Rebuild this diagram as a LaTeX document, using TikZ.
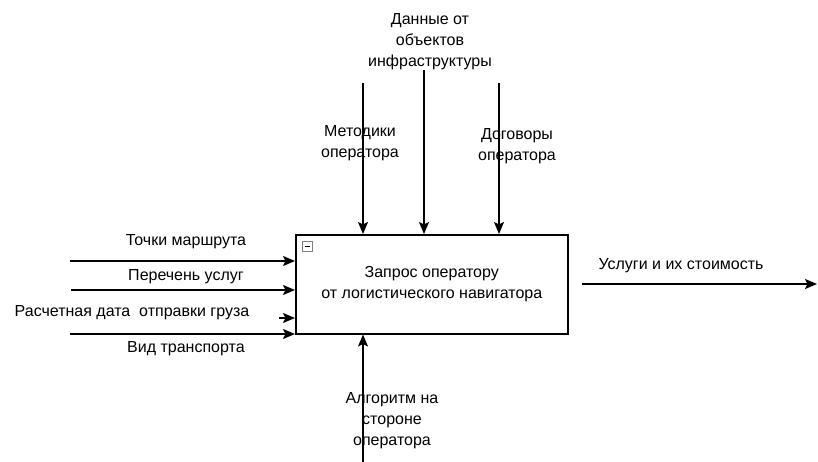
\documentclass[tikz,border=0pt]{standalone}
\usepackage{fontspec}
\setmainfont{Liberation Sans}
\usetikzlibrary{arrows.meta}

\begin{document}
\begin{tikzpicture}[x=1pt,y=-1pt,
    txt/.style={font=\fontsize{16}{21}\selectfont, align=center, inner sep=0pt},
    arr/.style={line width=1.5pt, -{Stealth[length=12pt,width=10pt,inset=2.5pt]}},
    func/.style={draw, line width=1.5pt, minimum width=272pt, minimum height=99pt, anchor=north west, inner sep=0pt}]
\useasboundingbox (0,0) rectangle (818,462);

% the function box
\node[func, txt] (zapros) at (295,234) {Запрос оператору\\от логистического навигатора};
\draw[gray, line width=0.8pt] (302,241) rectangle (312,251);
\draw[line width=0.9pt] (304.5,246) -- (309.5,246);

% controls from above
\node[txt] (lblDannye) at (430,42) {Данные от\\объектов\\инфраструктуры};
\node[txt] (lblMetod) at (360,143) {Методики\\оператора};
\node[txt] (lblDogov) at (517,146) {Договоры\\оператора};
\coordinate (inMetod) at (363,83);
\coordinate (inDannye) at (424,70);
\coordinate (inDogov) at (499,83);
\draw[arr] (inMetod) -- (inMetod |- zapros.north);
\draw[arr] (inDannye) -- (inDannye |- zapros.north);
\draw[arr] (inDogov) -- (inDogov |- zapros.north);

% inputs
\node[txt] (lblTochki) at (186,242) {Точки маршрута};
\node[txt] (lblPerech) at (186,277) {Перечень услуг};
\node[txt] (lblData) at (132,313) {Расчетная дата \ отправки груза};
\node[txt] (lblVid) at (186,349) {Вид транспорта};
\coordinate (inTochki) at (70,261);
\coordinate (inPerech) at (71,290);
\coordinate (inData) at (279,318);
\coordinate (inVid) at (70,334);
\draw[arr] (inTochki) -- (inTochki -| zapros.west);
\draw[arr] (inPerech) -- (inPerech -| zapros.west);
\draw[arr] (inData) -- (inData -| zapros.west);
\draw[arr] (inVid) -- (inVid -| zapros.west);

% output
\node[txt] (lblUslugi) at (681,266) {Услуги и их стоимость};
\coordinate (outStart) at (582,284);
\coordinate (outEnd) at (817,284);
\draw[arr] (outStart) -- (outEnd);

% mechanism from below
\node[txt] (lblAlg) at (392,421) {Алгоритм на\\стороне\\оператора};
\coordinate (mechAlg) at (363,462);
\draw[arr] (mechAlg) -- (mechAlg |- zapros.south);
\end{tikzpicture}
\end{document}
